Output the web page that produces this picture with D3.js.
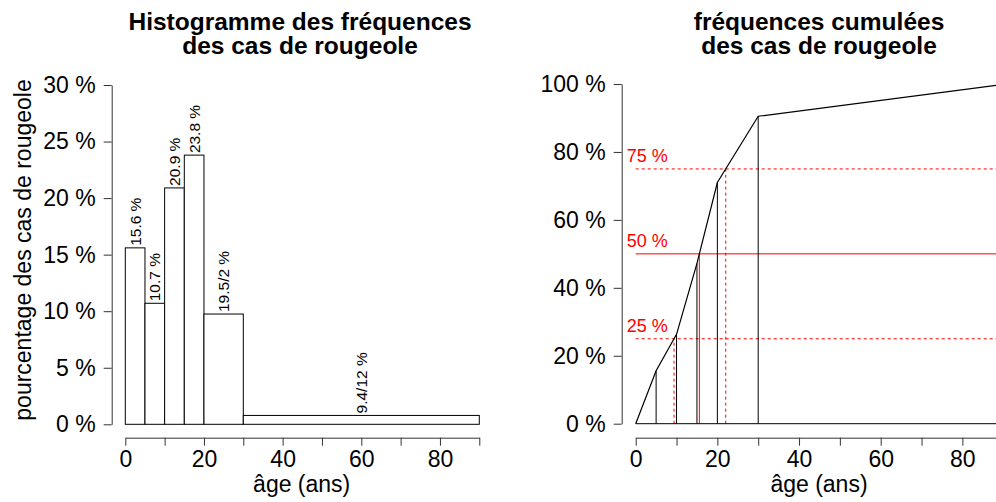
<!DOCTYPE html>
<html>
<head>
  <meta charset="utf-8">
  <title>Rougeole</title>
  <script src="https://d3js.org/d3.v7.min.js"></script>
  <style>
    body { margin: 0; background: #fff; }
    svg { font-family: "Liberation Sans", Arial, sans-serif; }
    .axis path, .axis line { stroke: #333; stroke-width: 1; }
    .axis text { font-size: 23px; fill: #000; font-family: "Liberation Sans", Arial, sans-serif; }
  </style>
</head>
<body>
  <svg id="chart" width="996" height="502"></svg>
  <script>
    // class limits (years) and share of cases in each class (%)
    var breaks = [0, 5, 10, 15, 20, 30, 90];
    var freqs = [15.6, 10.7, 20.9, 23.8, 19.5, 9.4];
    var barLabels = ["15.6 %", "10.7 %", "20.9 %", "23.8 %", "19.5/2 %", "9.4/12 %"];
    var xTicks = [0, 10, 20, 30, 40, 50, 60, 70, 80, 90];
    var xTickLabels = [0, 20, 40, 60, 80];
    var yTicksLeft = [0, 5, 10, 15, 20, 25, 30];
    var yTicksRight = [0, 20, 40, 60, 80, 100];
    var refLevels = [25, 50, 75];

    var svg = d3.select("#chart");

    // ---------- left : histogram ----------
    var x1 = d3.scaleLinear().domain([0, 90]).range([125.3, 479.3]);
    var y1 = d3.scaleLinear().domain([0, 30]).range([424.3, 85]);

    var bins = freqs.map(function(f, i) {
      var w = breaks[i + 1] - breaks[i];
      return {x0: breaks[i], x1: breaks[i + 1], h: f / (w / 5), label: barLabels[i]};
    });

    svg.selectAll(".bar")
      .data(bins)
      .enter()
      .append("rect")
      .attr("class", "bar")
      .attr("x", d => x1(d.x0))
      .attr("y", d => y1(d.h))
      .attr("width", d => x1(d.x1) - x1(d.x0))
      .attr("height", d => y1(0) - y1(d.h))
      .attr("fill", "#fff")
      .attr("stroke", "#000")
      .attr("stroke-width", 1);

    svg.selectAll(".barlab")
      .data(bins)
      .enter()
      .append("text")
      .attr("class", "barlab")
      .attr("transform", d => "translate(" + x1((d.x0 + d.x1) / 2) + "," + (y1(d.h) - 2) + ") rotate(-90)")
      .attr("dy", "0.36em")
      .attr("text-anchor", "start")
      .style("font-size", "15.5px")
      .text(d => d.label);

    svg.append("g")
      .attr("class", "axis")
      .attr("transform", "translate(0,437.7)")
      .call(d3.axisBottom(x1).tickValues(xTicks).tickSizeOuter(0).tickSizeInner(8).tickPadding(5)
        .tickFormat(d => xTickLabels.indexOf(d) >= 0 ? d : ""));

    svg.append("g")
      .attr("class", "axis")
      .attr("transform", "translate(111.7,0)")
      .call(d3.axisLeft(y1).tickValues(yTicksLeft).tickSizeOuter(0).tickSizeInner(8).tickPadding(8)
        .tickFormat(d => d + " %"));

    svg.append("text")
      .attr("transform", "translate(31,250) rotate(-90)")
      .attr("text-anchor", "middle")
      .style("font-size", "23px")
      .text("pourcentage des cas de rougeole");

    svg.append("text")
      .attr("x", 301.7).attr("y", 492)
      .attr("text-anchor", "middle")
      .style("font-size", "23px")
      .text("âge (ans)");

    var t1 = svg.append("text")
      .attr("text-anchor", "middle")
      .style("font-size", "24.5px")
      .style("font-weight", "bold");
    t1.append("tspan").attr("x", 300).attr("y", 30).text("Histogramme des fréquences");
    t1.append("tspan").attr("x", 300).attr("y", 53.5).text("des cas de rougeole");

    // ---------- right : cumulative frequencies ----------
    var x2 = d3.scaleLinear().domain([0, 90]).range([635.7, 1003.2]);
    var y2 = d3.scaleLinear().domain([0, 100]).range([423.7, 84]);

    var cum = [0];
    freqs.forEach(function(f, i) { cum.push(+(cum[i] + f).toFixed(1)); });
    var pts = breaks.map((b, i) => [b, cum[i]]);

    // age at which the cumulative curve reaches a level
    function ageAt(level) {
      for (var i = 1; i < pts.length; i++) {
        if (pts[i][1] >= level) {
          var a = pts[i - 1], b = pts[i];
          return a[0] + (b[0] - a[0]) * (level - a[1]) / (b[1] - a[1]);
        }
      }
    }

    var plot = svg.append("g");

    // horizontal reference lines
    plot.selectAll(".href")
      .data(refLevels)
      .enter()
      .append("line")
      .attr("x1", x2(0)).attr("x2", x2(90))
      .attr("y1", d => y2(d)).attr("y2", d => y2(d))
      .attr("stroke", "red")
      .attr("stroke-width", 1)
      .attr("stroke-dasharray", d => d === 50 ? null : "3,3");

    plot.selectAll(".hlab")
      .data(refLevels)
      .enter()
      .append("text")
      .attr("x", x2(0) - 9)
      .attr("y", d => y2(d) - 7)
      .attr("fill", "red")
      .style("font-size", "18px")
      .text(d => d + " %");

    // vertical lines at class limits
    plot.selectAll(".vcl")
      .data(pts.slice(1, pts.length - 1))
      .enter()
      .append("line")
      .attr("x1", d => x2(d[0])).attr("x2", d => x2(d[0]))
      .attr("y1", y2(0)).attr("y2", d => y2(d[1]))
      .attr("stroke", "#000")
      .attr("stroke-width", 1);

    // quartile verticals
    plot.selectAll(".vq")
      .data(refLevels)
      .enter()
      .append("line")
      .attr("x1", d => x2(ageAt(d))).attr("x2", d => x2(ageAt(d)))
      .attr("y1", y2(0)).attr("y2", d => y2(d))
      .attr("stroke", "red")
      .attr("stroke-width", 1)
      .attr("stroke-dasharray", d => d === 50 ? null : "3,3");

    // baseline
    plot.append("line")
      .attr("x1", x2(0)).attr("x2", x2(90))
      .attr("y1", y2(0)).attr("y2", y2(0))
      .attr("stroke", "#000");

    plot.append("path")
      .datum(pts)
      .attr("fill", "none")
      .attr("stroke", "#000")
      .attr("stroke-width", 1.2)
      .attr("d", d3.line().x(d => x2(d[0])).y(d => y2(d[1])));

    svg.append("g")
      .attr("class", "axis")
      .attr("transform", "translate(0,437.7)")
      .call(d3.axisBottom(x2).tickValues(xTicks).tickSizeOuter(0).tickSizeInner(8).tickPadding(5)
        .tickFormat(d => xTickLabels.indexOf(d) >= 0 ? d : ""));

    svg.append("g")
      .attr("class", "axis")
      .attr("transform", "translate(621.7,0)")
      .call(d3.axisLeft(y2).tickValues(yTicksRight).tickSizeOuter(0).tickSizeInner(8).tickPadding(8)
        .tickFormat(d => d + " %"));

    svg.append("text")
      .attr("x", 819).attr("y", 492)
      .attr("text-anchor", "middle")
      .style("font-size", "23px")
      .text("âge (ans)");

    var t2 = svg.append("text")
      .attr("text-anchor", "middle")
      .style("font-size", "24.5px")
      .style("font-weight", "bold");
    t2.append("tspan").attr("x", 819).attr("y", 30).text("fréquences cumulées");
    t2.append("tspan").attr("x", 819).attr("y", 53.5).text("des cas de rougeole");
  </script>
</body>
</html>
